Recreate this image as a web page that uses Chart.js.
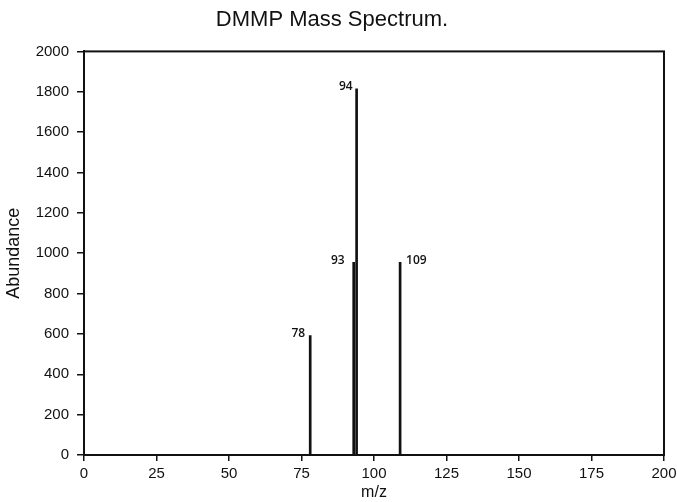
<!DOCTYPE html>
<html lang="en">
<head>
<meta charset="UTF-8">
<script src="https://cdn.jsdelivr.net/npm/chart.js@4.4.0/dist/chart.umd.min.js"></script>
<title>DMMP Mass Spectrum</title>
<style>
  body { margin: 0; background: #fff; }
</style>
</head>
<body>
<canvas id="spectrum" width="677" height="502"></canvas>
<script>
// peaks
let mzValues = [78, 93, 94, 109];
let abundance = [592, 955, 1815, 955];
let peakLabels = ['78', '93', '94', '109'];
let xTicks = [0, 25, 50, 75, 100, 125, 150, 175, 200];

const sans = '"Liberation Sans", Arial, sans-serif';

// box around the plot area + the m/z labels next to each peak
const framePlugin = {
  id: 'frame',
  afterDatasetsDraw(chart, args, opts) {
    const ctx = chart.ctx;
    const a = chart.chartArea;
    ctx.save();
    ctx.strokeStyle = '#111';
    ctx.lineWidth = 2;
    ctx.strokeRect(a.left, a.top, a.right - a.left, a.bottom - a.top);

    const meta = chart.getDatasetMeta(0);
    ctx.fillStyle = '#111';
    ctx.font = '600 12px "Open Sans", sans-serif';
    ctx.textBaseline = 'middle';
    meta.data.forEach((bar, i) => {
      if (opts.sides[i] === 'right') {
        ctx.textAlign = 'left';
        ctx.fillText(peakLabels[i], bar.x + 6, bar.y - 2);
      } else {
        ctx.textAlign = 'right';
        ctx.fillText(peakLabels[i], bar.x - opts.gaps[i], bar.y - 2);
      }
    });
    ctx.restore();
  }
};

const ctx = document.getElementById('spectrum').getContext('2d');
const chart = new Chart(ctx, {
  type: 'bar',
  data: {
    datasets: [{
      label: 'Abundance',
      data: mzValues.map((m, i) => ({ x: m, y: abundance[i] })),
      backgroundColor: '#111',
      borderWidth: 0,
      barThickness: 2
    }]
  },
  options: {
    responsive: false,
    animation: false,
    layout: { padding: { top: 0, right: 13, left: 0, bottom: 0 } },
    plugins: {
      legend: { display: false },
      tooltip: { enabled: false },
      title: {
        display: true,
        text: 'DMMP Mass Spectrum.',
        color: '#111',
        font: { family: sans, size: 22, weight: 'normal' },
        padding: { top: 7, bottom: 18 }
      },
      frame: { sides: ['left', 'left', 'left', 'right'], gaps: [5, 9, 4, 0] }
    },
    scales: {
      x: {
        type: 'linear',
        min: 0,
        max: 200,
        offset: false,
        afterFit: s => { s.height = 47; s.paddingRight = 0; s.paddingLeft = 0; },
        afterBuildTicks: s => { s.ticks = xTicks.map(v => ({ value: v })); },
        grid: { offset: false, drawOnChartArea: false, drawTicks: true, tickLength: 6, color: '#111', lineWidth: 1.5 },
        border: { display: true, color: '#111', width: 2 },
        ticks: { color: '#111', font: { family: sans, size: 15 }, padding: 4, maxRotation: 0 },
        title: { display: true, text: 'm/z', color: '#111', font: { family: sans, size: 16 }, padding: { top: 0, bottom: 0 } }
      },
      y: {
        min: 0,
        max: 2000,
        afterFit: s => { s.width = 84; },
        grid: { drawOnChartArea: false, drawTicks: true, tickLength: 7, color: '#111', lineWidth: 1.5 },
        border: { display: true, color: '#111', width: 2 },
        ticks: {
          stepSize: 200,
          color: '#111',
          font: { family: sans, size: 15 },
          padding: 8,
          callback: v => String(v)
        },
        title: { display: true, text: 'Abundance', color: '#111', font: { family: sans, size: 18 }, padding: { top: 3, bottom: 0 } }
      }
    }
  },
  plugins: [framePlugin]
});
</script>
</body>
</html>
